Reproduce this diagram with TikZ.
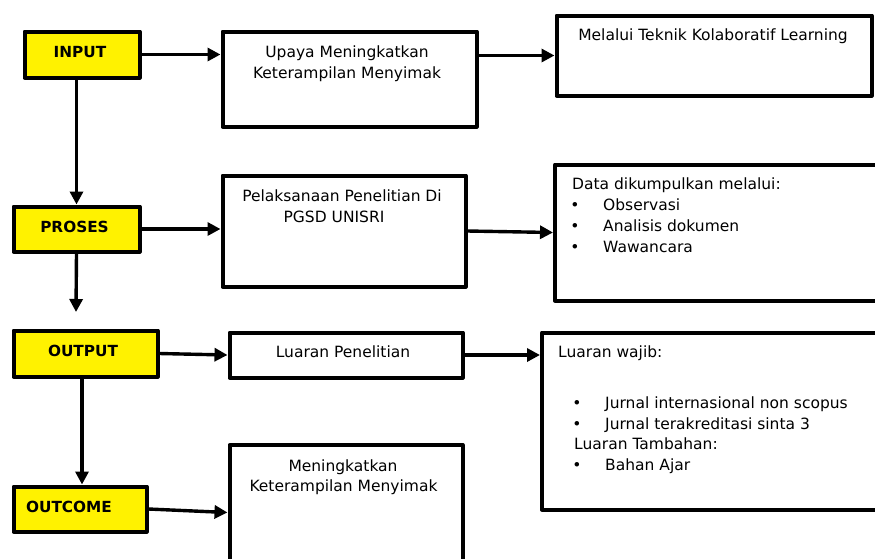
\documentclass[tikz,border=0pt]{standalone}
\usepackage{fontspec}
\setmainfont{DejaVu Sans}
\usetikzlibrary{arrows.meta}
\begin{document}
\begin{tikzpicture}[x=1pt,y=-1pt,
  box/.style={draw=black, line width=4pt, fill=white, inner sep=0pt, line join=round},
  ybox/.style={box, fill=yellow},
  arr/.style={line width=3.4pt, -{Triangle[length=13pt,width=13pt]}},
  txt/.style={inner sep=0pt, font=\fontsize{15.5}{21}\selectfont},
  btxt/.style={inner sep=0pt, font=\fontsize{15.3}{21}\selectfont\bfseries}]
\useasboundingbox (0,0) rectangle (875,558);
\clip (0,0) rectangle (875,558);
\fill[white] (0,0) rectangle (875,558);
% yellow boxes
\node[ybox, minimum width=115pt, minimum height=46pt] (in)  at (82,54.5) {};
\node[ybox, minimum width=126pt, minimum height=45pt] (pro) at (76.5,229) {};
\node[ybox, minimum width=144pt, minimum height=46pt] (out) at (85.5,353.5) {};
\node[ybox, minimum width=133pt, minimum height=45pt] (oc)  at (80,509) {};
% white boxes
\node[box, minimum width=254pt, minimum height=95pt]  (a) at (349.5,79) {};
\node[box, minimum width=243pt, minimum height=111pt] (b) at (344,231) {};
\node[box, minimum width=315pt, minimum height=80pt]  (c) at (714,55.5) {};
\node[box, minimum width=350pt, minimum height=136pt] (d) at (730,232.5) {};
\node[box, minimum width=233pt, minimum height=45pt]  (e) at (346,355) {};
\node[box, minimum width=233pt, minimum height=135pt] (f) at (346,512.5) {};
\node[box, minimum width=363pt, minimum height=177pt] (g) at (723.5,421) {};
% labels in yellow boxes
\node[btxt, anchor=base] (tin)  at (80,57)  {INPUT};
\node[btxt, anchor=base] (tpro) at (74.5,232) {PROSES};
\node[btxt, anchor=base] (tout) at (83,356) {OUTPUT};
\node[btxt, anchor=base] (toc)  at (69,512) {OUTCOME};
% texts in white boxes
\node[txt, anchor=base] (ta1) at (347,57) {Upaya Meningkatkan};
\node[txt, anchor=base] (ta2) at (347,78) {Keterampilan Menyimak};
\node[txt, anchor=base] (tb1) at (342,201) {Pelaksanaan Penelitian Di};
\node[txt, anchor=base] (tb2) at (334,222) {PGSD UNISRI};
\node[txt, anchor=base] (tc1) at (713,40) {Melalui Teknik Kolaboratif Learning};
\node[txt, anchor=base west] (td0) at (572,189) {Data dikumpulkan melalui:};
\node[txt, anchor=base] (db1) at (575,210) {•};
\node[txt, anchor=base west] (td1) at (603,210) {Observasi};
\node[txt, anchor=base] (db2) at (575,231) {•};
\node[txt, anchor=base west] (td2) at (603,231) {Analisis dokumen};
\node[txt, anchor=base] (db3) at (575,252) {•};
\node[txt, anchor=base west] (td3) at (603,252) {Wawancara};
\node[txt, anchor=base] (te1) at (343,357) {Luaran Penelitian};
\node[txt, anchor=base] (tf1) at (343,471) {Meningkatkan};
\node[txt, anchor=base] (tf2) at (343.5,491) {Keterampilan Menyimak};
\node[txt, anchor=base west] (tg0) at (558,357) {Luaran wajib:};
\node[txt, anchor=base] (gb1) at (577,408) {•};
\node[txt, anchor=base west] (tg1) at (605,408) {Jurnal internasional non scopus};
\node[txt, anchor=base] (gb2) at (577,429) {•};
\node[txt, anchor=base west] (tg2) at (605,429) {Jurnal terakreditasi sinta 3};
\node[txt, anchor=base west] (tg3) at (574,449) {Luaran Tambahan:};
\node[txt, anchor=base] (gb3) at (577,470) {•};
\node[txt, anchor=base west] (tg4) at (605,470) {Bahan Ajar};
% connectors
\coordinate (pe) at (76,312);
\draw[arr] (in.east) -- (in.east -| a.west);
\draw[arr] (c.west -| a.east) -- (c.west);
\draw[arr] (pro.east) -- (pro.east -| b.west);
\draw[arr] (b.east) -- (d.west);
\draw[arr] (out.east) -- (e.west);
\draw[arr] (e.east) -- (e.east -| g.west);
\draw[arr] (oc.east) -- (f.west);
\draw[arr] (in.south -| pro.north) -- (pro.north);
\draw[arr] (pro.south) -- (pe);
\draw[arr] ([xshift=-3.5pt]out.south) -- ([xshift=2pt]oc.north);
\end{tikzpicture}
\end{document}
